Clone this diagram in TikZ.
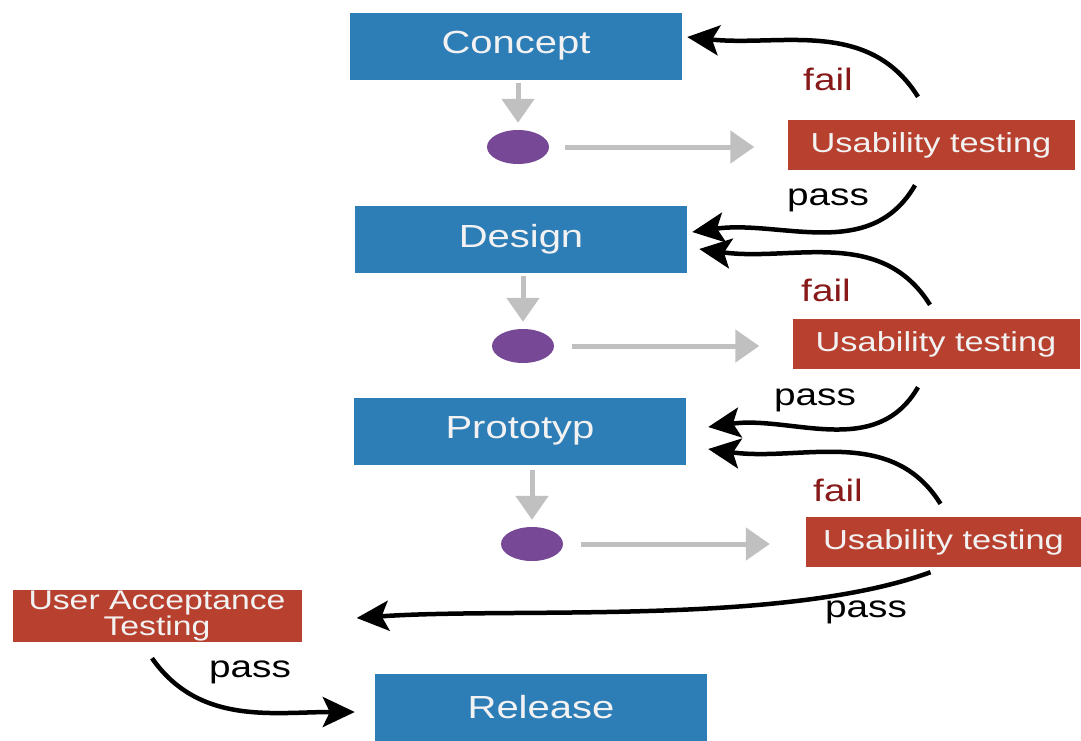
\documentclass[tikz,border=0pt]{standalone}
\usepackage{fontspec}
\setmainfont{Liberation Sans}[FakeStretch=1.25]
\usetikzlibrary{arrows.meta,shapes.geometric}
\definecolor{stageblue}{RGB}{45,125,182}
\definecolor{testred}{RGB}{183,64,46}
\definecolor{dotpurple}{RGB}{118,72,150}
\definecolor{flowgray}{RGB}{192,192,192}
\definecolor{failred}{RGB}{135,25,25}
\definecolor{boxtext}{RGB}{242,242,242}
\tikzset{
  stage/.style={fill=stageblue, text=boxtext, minimum width=332pt, minimum height=67pt,
    inner sep=0pt, font=\fontsize{32}{34}\selectfont},
  test/.style={fill=testred, text=boxtext, minimum height=50pt, inner sep=0pt,
    font=\fontsize{27.5}{26}\selectfont, align=center},
  dot/.style={ellipse, fill=dotpurple, minimum width=62pt, minimum height=34pt, inner sep=0pt},
  flow/.style={draw=flowgray, line width=5pt, -{Triangle[length=24pt,width=32pt]}},
  loop/.style={draw=black, line width=4.5pt, -{Stealth[length=32pt,width=30pt,inset=7pt]}},
  faillabel/.style={text=failred, font=\fontsize{31}{32}\selectfont},
  passlabel/.style={text=black, font=\fontsize{31}{32}\selectfont},
}
\begin{document}
\begin{tikzpicture}[x=1pt,y=-1pt]
\useasboundingbox (0,0) rectangle (1081,740);

% main stages
\node[stage] (concept) at (516,46) {Concept};
\node[stage] (design) at (521,239) {Design};
\node[stage] (proto) at (520,431) {Prototyp};
\node[stage] (release) at (541,707) {Release};

% testing boxes
\node[test, minimum width=287pt] (u1) at (931,145) {Usability testing};
\node[test, minimum width=287pt] (u2) at (936,344) {Usability testing};
\node[test, minimum width=275pt] (u3) at (943.5,542) {Usability testing};
\node[test, minimum width=289pt, minimum height=52pt,
  font=\fontsize{27}{24}\selectfont] (uat) at (157,616)
  {User Acceptance\\Testing};

% checkpoints
\node[dot] (c1) at (518,147) {};
\node[dot] (c2) at (523,346) {};
\node[dot] (c3) at (532,544) {};

% gray flow arrows
\draw[flow, shorten <=3pt, shorten >=7pt] (c1.north |- concept.south) -- (c1.north);
\draw[flow, shorten <=3pt, shorten >=7pt] (c2.north |- design.south) -- (c2.north);
\draw[flow, shorten <=5pt, shorten >=7pt] (c3.north |- proto.south) -- (c3.north);
\draw[flow, shorten <=16pt, shorten >=33pt] (c1.east) -- (c1.east -| u1.west);
\draw[flow, shorten <=18pt, shorten >=33pt] (c2.east) -- (c2.east -| u2.west);
\draw[flow, shorten <=18pt, shorten >=36pt] (c3.east) -- (c3.east -| u3.west);

% feedback loops
\draw[loop] ([xshift=-13pt,yshift=23pt]u1.north) to[out=122,in=-6] ([xshift=5pt,yshift=9pt]concept.east);
\draw[loop] ([xshift=-16pt,yshift=-15pt]u1.south) to[out=240,in=8] ([xshift=5pt,yshift=7pt]design.east);
\draw[loop] ([xshift=-6pt,yshift=14pt]u2.north) to[out=122,in=-8] ([xshift=12pt,yshift=-10pt]design.east);
\draw[loop] ([xshift=-18pt,yshift=-18pt]u2.south) to[out=240,in=8] ([xshift=22pt,yshift=4pt]proto.east);
\draw[loop] ([xshift=-3pt,yshift=13pt]u3.north) to[out=122,in=-8] ([xshift=22pt,yshift=-18pt]proto.east);
\draw[loop] ([xshift=-13pt,yshift=-5pt]u3.south) to[out=200,in=4,looseness=0.7] ([xshift=55pt,yshift=-2pt]uat.east);
\draw[loop] ([xshift=-5pt,yshift=-16pt]uat.south) to[out=-55,in=180] ([xshift=-20pt,yshift=-5pt]release.west);

% loop labels
\node[faillabel] (f1) at (828,79) {fail};
\node[passlabel] (p1) at (828,200) {pass};
\node[faillabel] (f2) at (826,290) {fail};
\node[passlabel] (p2) at (815,400) {pass};
\node[faillabel] (f3) at (838,490) {fail};
\node[passlabel] (p3) at (866,612) {pass};
\node[passlabel] (p4) at (250,672) {pass};
\end{tikzpicture}
\end{document}
